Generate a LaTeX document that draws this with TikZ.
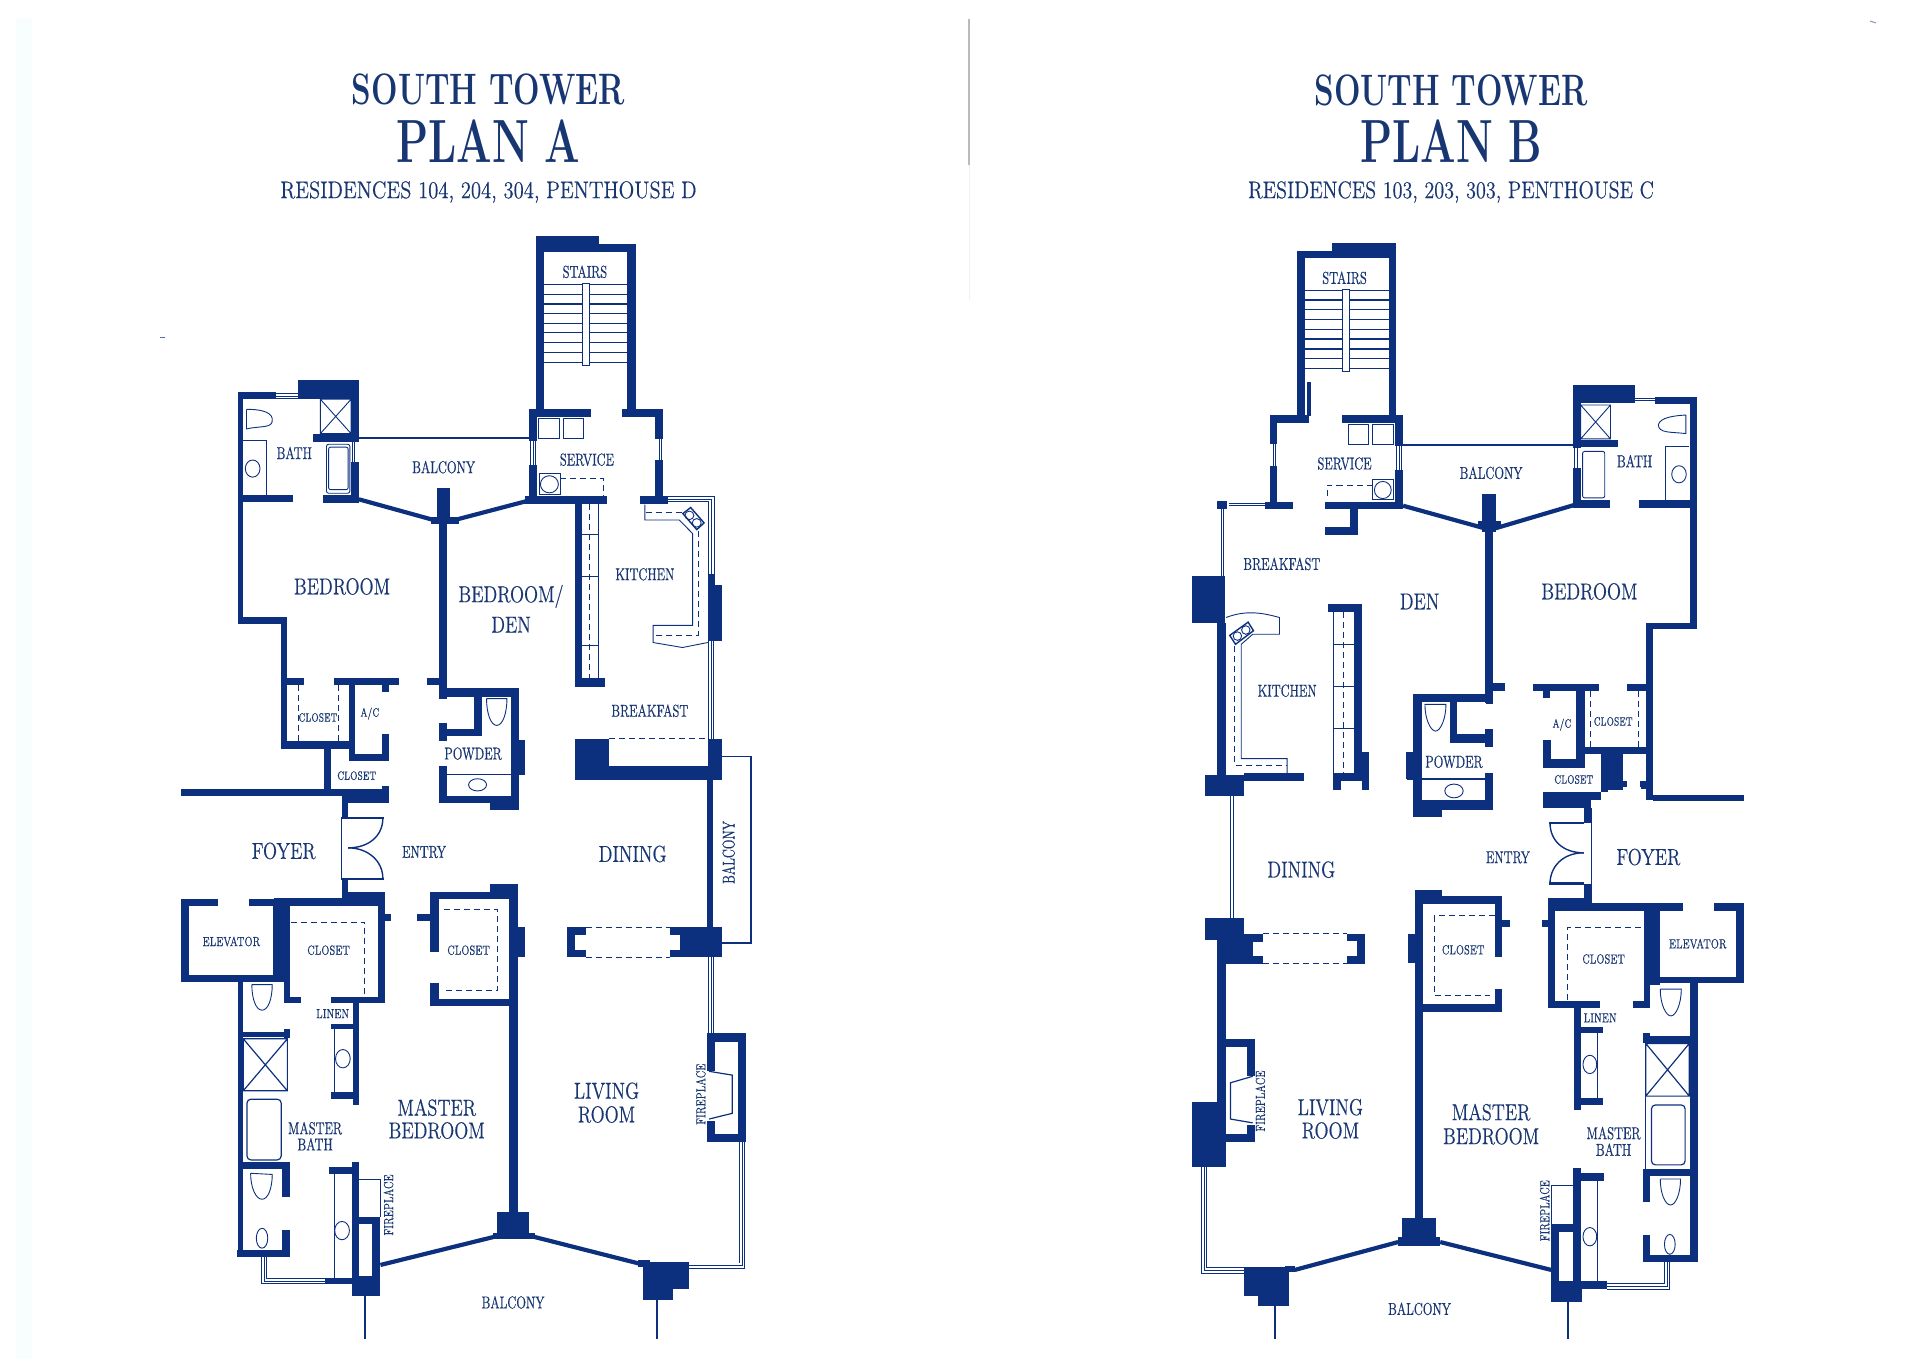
\documentclass[tikz,border=0pt]{standalone}
\usepackage{xcolor}
\usepackage{fontspec}
\setmainfont[FakeBold=.5]{Latin Modern Roman}
\newfontfamily\headfont{Latin Modern Roman}
\definecolor{planblue}{RGB}{12,47,126}
\definecolor{inkblue}{RGB}{24,54,114}
\definecolor{scanstrip}{RGB}{248,254,254}
\tikzset{
  wall/.style={fill=planblue},
  thinwall/.style={draw=planblue, line width=2.1pt},
  fixture/.style={draw=planblue, line width=.45pt},
  dashln/.style={draw=planblue, line width=.45pt, dash pattern=on 3pt off 2pt},
  pane/.style={draw=planblue, line width=3.2pt, postaction={draw=white, line width=2.3pt}, postaction={draw=planblue, line width=.4pt}},
  panelite/.style={draw=planblue, line width=2.6pt, postaction={draw=white, line width=1.9pt}, postaction={draw=planblue, line width=.3pt}},
  titlelbl/.style={text=inkblue, inner sep=0pt, transform shape},
  roomlbl/.style={titlelbl, font=\fontsize{11.5}{12}\selectfont, xscale=.8},
  smalllbl/.style={titlelbl, font=\fontsize{8.6}{9}\selectfont, xscale=.7},
  tinylbl/.style={titlelbl, font=\fontsize{6.6}{7}\selectfont, xscale=.7},
  microlbl/.style={titlelbl, font=\fontsize{6}{7}\selectfont, xscale=.66},
  cropAa/.style={shift={(160,220)}, x=.20408pt, y=-.17857pt},
  cropAb/.style={shift={(160,760)}, x=.20408pt, y=-.19098pt},
  cropBa/.style={shift={(1180,230)}, x=.19133pt, y=-.17857pt},
  cropBb/.style={shift={(1180,760)}, x=.19133pt, y=-.19098pt},
}
\newcommand{\walls}[1]{\foreach \xa/\ya/\xb/\yb in {#1} {\fill[wall] (\xa,\ya) rectangle (\xb,\yb);}}
\newcommand{\boxes}[1]{\foreach \xa/\ya/\xb/\yb in {#1} {\draw[fixture] (\xa,\ya) rectangle (\xb,\yb);}}
\begin{document}
\begin{tikzpicture}[x=.5pt, y=-.5pt]
    \useasboundingbox (0,0) rectangle (1920,1359);

    % Marks of the scan
    \fill[scanstrip] (16,18) rectangle (32,1359);
    \draw[planblue!70, line width=.5pt] (160,337) -- (165,337);
    \draw[planblue!50, line width=.5pt] (1870,21) -- (1876,23);

    % Headings
    \node[titlelbl, font=\headfont\bfseries\fontsize{22}{24}\selectfont, xscale=.713] (titleA) at (488.5,89) {SOUTH TOWER};
    \node[titlelbl, font=\headfont\bfseries\fontsize{30.5}{32}\selectfont, xscale=.686] (planA) at (488.5,141) {PLAN A};
    \node[titlelbl, font=\fontsize{12}{13}\selectfont, xscale=.86] (resA) at (488.5,192) {RESIDENCES 104, 204, 304, PENTHOUSE D};
    \node[titlelbl, font=\headfont\bfseries\fontsize{22}{24}\selectfont, xscale=.713] (titleB) at (1451,90) {SOUTH TOWER};
    \node[titlelbl, font=\headfont\bfseries\fontsize{30.5}{32}\selectfont, xscale=.686] (planB) at (1451,141) {PLAN B};
    \node[titlelbl, font=\fontsize{12}{13}\selectfont, xscale=.84] (resB) at (1451,192) {RESIDENCES 103, 203, 303, PENTHOUSE C};

    % Fold of the sheet
    \draw[black!27, line width=1pt] (969,19) -- (969,165);
    \draw[black!6, line width=.5pt] (969,165) -- (969,300);

    % Plan A, upper half
    \begin{scope}[cropAa]
        % stairs
        \walls{921/46/1076/90, 921/66/1166/90, 921/46/941/530, 1145/66/1166/530}
        \foreach \ty in {181,208,235,262,289,316,343,371,398} {\draw[fixture, line width=.6pt] (941,\ty) -- (1145,\ty);}
        \draw[fixture, fill=white] (1034,178) rectangle (1051,408);
        % service room
        \walls{905/528/1055/552, 1133/528/1233/552, 905/528/923/620, 905/685/923/790, 1213/528/1233/612, 1213/672/1233/780, 895/773/1095/795, 1175/773/1245/795}
        \draw[panelite] (914,620) -- (914,685);
        \draw[panelite] (1223,612) -- (1223,672);
        \boxes{927/555/978/611, 988/555/1038/611, 929/710/981/768}
        \draw[fixture] (954,740) ellipse (22 and 24);
        \draw[dashln] (981,724) -- (1087,724) -- (1087,772);
        % bath
        \walls{190/482/285/502, 190/482/204/1130, 337/447/487/500, 468/447/487/620, 468/678/487/790, 376/600/487/621, 204/771/325/789, 399/769/487/791}
        \draw[panelite] (285,493) -- (337,493);
        \draw[panelite] (477,621) -- (477,678);
        \draw[fixture] (393,502) rectangle (468,598) (393,502) -- (468,598) (393,598) -- (468,502);
        \draw[fixture, rounded corners=1pt] (408,628) rectangle (465,765);
        \draw[fixture, rounded corners=1pt] (413,636) rectangle (461,755);
        \draw[fixture] (212,530) -- (212,585) .. controls (250,575) and (278,585) .. (275,556) .. controls (272,535) and (240,530) .. (212,530);
        \draw[fixture] (204,618) -- (260,618) -- (260,771);
        \draw[fixture] (227,696) ellipse (18 and 24);
        % balcony rail and centre wall
        \walls{487/607/905/613, 678/750/710/850, 665/832/733/852, 683/850/703/1320, 655/1283/703/1303}
        \draw[thinwall] (487,782) -- (680,843);
        \draw[thinwall] (905,785) -- (712,843);
        % closets by the bedroom
        \walls{190/1112/312/1132, 297/1112/312/1480, 297/1283/354/1303, 427/1283/585/1303, 545/1303/561/1322, 463/1303/478/1515, 463/1495/561/1515, 545/1440/561/1515, 297/1460/478/1480, 403/1480/418/1568}
        \draw[dashln] (340,1303) -- (340,1460);
        \draw[dashln] (438,1303) -- (438,1460);
        % powder
        \walls{683/1310/880/1335, 683/1303/703/1340, 860/1310/880/1568, 880/1455/895/1545, 770/1310/790/1445, 683/1425/790/1445, 683/1408/703/1458, 683/1530/703/1568}
        \draw[fixture] (800,1340) -- (850,1340) .. controls (850,1380) and (840,1415) .. (825,1415) .. controls (810,1415) and (800,1380) .. (800,1340);
        % kitchen
        \walls{1016/795/1033/1307, 1016/1283/1089/1307}
        \draw[fixture] (1075,795) -- (1075,1283);
        \foreach \ty in {880,997,1190} {\draw[fixture] (1033,\ty) -- (1075,\ty);}
        \draw[dashln] (1051,795) -- (1051,1283);
        \draw[fixture] (1188,797) -- (1188,840) -- (1272,840) -- (1305,878) -- (1305,1135) -- (1208,1135) -- (1208,1183) -- (1280,1197) -- (1342,1183);
        \draw[dashln] (1190,820) -- (1282,820);
        \draw[dashln] (1318,870) -- (1318,1162) -- (1208,1162);
        \draw[fixture, line width=.7pt, fill=white] (1281,822) -- (1300,805) -- (1333,848) -- (1315,867) -- cycle;
        \draw[fixture] (1297,827) circle (11 and 12) (1315,848) circle (11 and 12);
        \draw[pane] (1245,781) -- (1351,781) -- (1351,990);
        \walls{1342/990/1360/1180, 1360/1023/1378/1180}
        \draw[pane] (1350,1180) -- (1350,1453);
        % block at the breakfast room
        \walls{1016/1453/1100/1568, 1342/1453/1378/1568, 1016/1530/1378/1568}
        \draw[dashln] (1100,1453) -- (1342,1453);
        \draw[fixture, line width=.9pt] (1378,1502) -- (1447,1502) -- (1447,1568);
        % room names
        \node[smalllbl] (stairsA) at (1041,145) {STAIRS};
        \node[smalllbl] (serviceA) at (1046,671) {SERVICE};
        \node[smalllbl] (balconyA) at (695,692) {BALCONY};
        \node[smalllbl] (bathA) at (329,652) {BATH};
        \node[roomlbl] (bedroomA) at (446,1026) {BEDROOM};
        \node[roomlbl] (denA) at (860,1054) {BEDROOM/};
        \node[roomlbl] (denAb) at (860,1133) {DEN};
        \node[smalllbl] (kitchenA) at (1188,992) {KITCHEN};
        \node[smalllbl] (breakfastA) at (1200,1374) {BREAKFAST};
        \node[smalllbl] (powderA) at (767,1494) {POWDER};
        \node[microlbl] (closetAa) at (387,1393) {CLOSET};
        \node[microlbl] (acA) at (514,1382) {A/C};
    \end{scope}

    % Plan A, lower half
    \begin{scope}[cropAb]
        % foyer and elevator
        \walls{403/52/418/75, 51/75/445/95, 403/75/561/95, 445/95/561/112, 545/68/561/112, 445/95/461/150, 445/313/461/345, 280/362/461/382, 445/345/551/382, 51/363/141/382, 218/363/318/382, 51/363/72/580, 51/562/318/580, 278/363/318/565, 303/565/318/635, 303/620/345/635, 420/620/551/635, 535/363/551/635, 551/403/566/421}
        % doors
        \draw[fixture, line width=.7pt] (445,150) -- (445,313);
        \walls{445/150/548/155, 445/308/548/313}
        \draw[fixture, line width=.7pt] (546,152) .. controls (546,200) and (510,230) .. (461,230);
        \draw[fixture, line width=.7pt] (546,310) .. controls (546,265) and (510,230) .. (461,230);
        \draw[dashln] (320,424) -- (502,424) -- (502,620);
        % master bath
        \walls{472/635/487/703, 418/690/487/703, 472/703/487/903, 418/870/487/888, 190/580/204/1302, 204/712/318/726, 303/703/318/728, 204/1053/318/1072, 300/1053/318/1145, 300/1230/318/1302, 188/1283/318/1302, 414/1065/488/1085, 470/1053/488/1402, 405/1355/470/1372}
        \draw[fixture] (427,703) -- (427,870);
        \draw[fixture] (448,782) ellipse (18 and 24);
        \draw[fixture] (225,588) -- (275,588) .. controls (275,625) and (265,655) .. (250,655) .. controls (235,655) and (225,625) .. (225,588);
        \draw[fixture, line width=.6pt] (204,730) rectangle (312,866) (204,730) -- (312,866) (204,866) -- (312,730);
        \draw[fixture, rounded corners=2pt, line width=.6pt] (213,888) rectangle (297,1047);
        \draw[fixture] (222,1082) -- (275,1085) .. controls (275,1120) and (265,1150) .. (250,1150) .. controls (235,1150) and (222,1120) .. (222,1082);
        \draw[fixture] (250,1252) ellipse (14 and 26);
        \draw[fixture] (427,1085) -- (427,1355);
        \draw[fixture] (446,1232) ellipse (18 and 24);
        \draw[pane] (255,1302) -- (255,1364) -- (405,1364);
        % fireplace by the bedroom
        \draw[fixture] (488,1098) -- (540,1098) -- (540,1197);
        \walls{488/1197/540/1216, 520/1197/540/1402, 470/1352/540/1402}
        % powder remainder
        \walls{860/52/880/131, 880/0/895/38, 683/20/703/113, 683/93/880/113, 808/113/880/131}
        \draw[fixture] (703,37) -- (860,37);
        \draw[fixture] (778,65) ellipse (22 and 16);
        % big closet and centre wall
        \walls{662/345/856/365, 808/325/877/345, 856/325/877/1183, 877/438/893/517, 662/345/684/503, 630/403/684/422, 662/585/684/645, 662/625/856/645, 825/1183/905/1255, 815/1237/918/1255}
        \draw[dashln] (695,392) -- (827,392) -- (827,603) -- (695,603);
        \draw[thinwall] (540,1322) -- (820,1248);
        \draw[thinwall] (915,1248) -- (1180,1320);
        % dining
        \walls{1016/52/1378/38, 1340/38/1356/438, 997/438/1043/458, 997/438/1017/517, 997/497/1043/517, 1273/438/1378/517, 1250/438/1273/458, 1250/497/1273/517}
        \draw[dashln] (1043,438) -- (1250,438);
        \draw[dashln] (1043,517) -- (1250,517);
        \draw[fixture, line width=.9pt] (1447,52) -- (1447,480) -- (1378,480);
        \draw[pane] (1350,517) -- (1350,715);
        % living room fireplace
        \walls{1340/715/1435/738, 1340/738/1360/815, 1340/945/1360/1000, 1340/980/1435/1000, 1415/715/1435/1000}
        \draw[fixture, line width=.6pt] (1345,815) -- (1402,825) -- (1402,925) -- (1345,940);
        \draw[pane] (1426,1000) -- (1426,1324) -- (1295,1324);
        % corner piers, balcony ends
        \walls{1184/1313/1295/1385, 1184/1385/1257/1415, 1172/1310/1200/1328}
        \draw[fixture, line width=1pt] (1218,1415) -- (1218,1515);
        \draw[fixture, line width=1pt] (501,1402) -- (501,1515);
        % room names
        \node[microlbl] (closetAb) at (482,41) {CLOSET};
        \node[roomlbl] (foyerA) at (303,238) {FOYER};
        \node[smalllbl] (entryA) at (647,241) {ENTRY};
        \node[roomlbl] (diningA) at (1158,246) {DINING};
        \node[tinylbl] (elevatorA) at (175,475) {ELEVATOR};
        \node[tinylbl] (closetAc) at (413,498) {CLOSET};
        \node[tinylbl] (closetAd) at (756,498) {CLOSET};
        \node[tinylbl] (linenA) at (423,664) {LINEN};
        \node[smalllbl] (mbathA) at (380,964) {MASTER};
        \node[smalllbl] (mbathAb) at (380,1006) {BATH};
        \node[roomlbl] (mbedA) at (678,910) {MASTER};
        \node[roomlbl] (mbedAb) at (678,970) {BEDROOM};
        \node[roomlbl] (livingA) at (1094,866) {LIVING};
        \node[roomlbl] (livingAb) at (1094,928) {ROOM};
        \node[smalllbl] (balconyAb) at (865,1420) {BALCONY};
        \node[rotate=90, smalllbl] (balconyAc) at (1393,242) {BALCONY};
        \node[rotate=90, tinylbl] (fireAa) at (560,1165) {FIREPLACE};
        \node[rotate=90, tinylbl] (fireAb) at (1325,875) {FIREPLACE};
    \end{scope}

    % Plan B, upper half
    \begin{scope}[cropBa]
        % stairs
        \walls{398/36/565/58, 305/58/565/78, 305/58/327/520, 545/36/565/520, 332/425/341/520}
        \foreach \ty in {170,196,223,250,278,305,333,360,387} {\draw[fixture, line width=.6pt] (327,\ty) -- (545,\ty);}
        \draw[fixture, fill=white] (424,167) rectangle (444,397);
        % service room
        \walls{235/518/338/540, 422/518/583/540, 235/518/253/600, 235/662/253/780, 562/518/583/605, 562/672/583/782, 222/762/296/782, 380/762/583/782, 443/782/465/855, 380/832/465/855}
        \draw[panelite] (244,600) -- (244,662);
        \draw[panelite] (572,605) -- (572,672);
        \boxes{440/545/492/600, 503/545/557/600, 503/698/558/755}
        \draw[fixture] (530,728) ellipse (22 and 24);
        \draw[dashln] (503,714) -- (385,714) -- (385,755);
        % bath
        \walls{1027/433/1188/485, 1027/433/1047/610, 1027/665/1047/775, 1027/587/1145/607, 1240/467/1352/487, 1332/467/1352/1118, 1218/1100/1352/1118, 1218/1100/1237/1568, 1027/757/1123/777, 1200/757/1352/777}
        \draw[panelite] (1037,610) -- (1037,665);
        \draw[fixture] (1047,490) rectangle (1125,585) (1047,490) -- (1125,585) (1047,585) -- (1125,490);
        \draw[fixture, rounded corners=1pt] (1052,620) rectangle (1110,750);
        \draw[fixture] (1322,518) -- (1322,570) .. controls (1285,565) and (1250,570) .. (1250,545) .. controls (1255,525) and (1290,520) .. (1322,518);
        \draw[fixture] (1330,605) -- (1268,605) -- (1268,757);
        \draw[fixture] (1304,684) ellipse (19 and 24);
        \draw[panelite] (1188,478) -- (1240,478);
        % balcony rail and centre wall
        \walls{583/598/1030/604, 790/738/825/845, 778/815/840/838, 797/845/818/1325, 818/1268/848/1292}
        \draw[thinwall] (583,772) -- (795,835);
        \draw[thinwall] (1030,770) -- (825,835);
        % closets by the bedroom
        \walls{923/1270/1095/1292, 1168/1270/1237/1290, 948/1292/968/1310, 1035/1292/1058/1505, 948/1428/970/1505, 948/1482/1058/1505, 1035/1448/1237/1468, 1100/1468/1157/1568, 1205/1545/1237/1565}
        \draw[dashln] (1073,1292) -- (1073,1448);
        \draw[dashln] (1197,1292) -- (1197,1448);
        % powder
        \walls{610/1300/818/1322, 610/1300/632/1568, 590/1462/610/1538, 800/1300/818/1328, 705/1322/725/1435, 705/1412/818/1435, 798/1398/818/1447, 798/1520/818/1568}
        \draw[fixture] (640,1328) -- (695,1328) .. controls (695,1370) and (680,1403) .. (668,1403) .. controls (655,1403) and (640,1370) .. (640,1328);
        \draw[fixture] (632,1537) -- (800,1537);
        % kitchen and breakfast
        \walls{32/968/118/1100, 97/1100/120/1568, 65/1525/167/1568, 167/1520/323/1543, 388/1048/476/1070, 455/1048/476/1543, 400/1520/495/1543, 476/1462/495/1568, 400/1520/420/1568, 97/760/122/782}
        \draw[panelite] (108,968) -- (108,782);
        \draw[panelite] (128,772) -- (222,772);
        \draw[fixture] (402,1070) -- (402,1520);
        \foreach \ty in {1160,1278,1395} {\draw[fixture] (402,\ty) -- (455,\ty);}
        \draw[dashln] (428,1070) -- (428,1520);
        \draw[fixture] (120,1085) .. controls (170,1065) and (210,1070) .. (260,1085) -- (260,1132) -- (190,1132) -- (160,1160) -- (160,1480) -- (280,1480) -- (280,1525);
        \draw[dashln] (143,1165) -- (143,1498) -- (280,1498);
        \draw[fixture, line width=.7pt, fill=white] (130,1135) -- (178,1098) -- (192,1122) -- (145,1160) -- cycle;
        \draw[fixture] (150,1137) circle (11 and 12) (172,1120) circle (11 and 12);
        % room names
        \node[smalllbl] (stairsB) at (430,134) {STAIRS};
        \node[smalllbl] (serviceB) at (430,654) {SERVICE};
        \node[smalllbl] (balconyB) at (813,680) {BALCONY};
        \node[smalllbl] (bathB) at (1188,647) {BATH};
        \node[smalllbl] (breakfastB) at (266,935) {BREAKFAST};
        \node[roomlbl] (denB) at (626,1040) {DEN};
        \node[roomlbl] (bedroomB) at (1070,1012) {BEDROOM};
        \node[smalllbl] (kitchenB) at (280,1290) {KITCHEN};
        \node[smalllbl] (powderB) at (716,1489) {POWDER};
        \node[microlbl] (closetBa) at (1132,1376) {CLOSET};
        \node[microlbl] (acB) at (998,1385) {A/C};
    \end{scope}

    % Plan B, lower half
    \begin{scope}[cropBb]
        % foyer and elevator
        \walls{65/38/167/95, 948/85/1100/105, 948/85/968/125, 948/105/1075/125, 1057/125/1075/165, 1057/325/1075/375, 1100/0/1157/55, 1100/55/1118/85, 1157/55/1167/70, 1217/40/1237/105, 1203/55/1217/70, 1237/92/1473/107, 962/360/1075/395, 1075/375/1315/395, 1395/375/1473/395, 1453/375/1473/585, 1230/568/1473/585, 1212/375/1255/590, 1212/590/1228/650, 962/360/980/650, 962/632/1098/650, 1185/632/1228/650, 947/418/962/437}
        % doors
        \draw[fixture, line width=.7pt] (1075,125) -- (1075,375);
        \walls{965/163/1057/168, 965/320/1057/326}
        \draw[fixture, line width=.7pt] (967,165) .. controls (967,210) and (1000,243) .. (1055,243);
        \draw[fixture, line width=.7pt] (967,323) .. controls (967,280) and (1000,243) .. (1055,243);
        \draw[dashln] (1205,438) -- (1013,438) -- (1013,632);
        % master bath
        \walls{1030/650/1048/915, 1048/700/1105/716, 1048/885/1105/903, 1333/585/1353/1315, 1210/1295/1353/1315, 1210/716/1228/742, 1210/722/1333/742, 1210/1070/1333/1090, 1210/1070/1228/1158, 1210/1243/1228/1315, 1027/1068/1048/1418, 1048/1082/1107/1102, 1048/1365/1115/1385}
        \draw[fixture] (1092,716) -- (1092,885);
        \draw[fixture] (1071,797) ellipse (18 and 24);
        \draw[fixture] (1255,600) -- (1310,600) .. controls (1310,640) and (1295,670) .. (1283,670) .. controls (1270,670) and (1255,640) .. (1255,600);
        \draw[fixture, line width=.6pt] (1217,742) rectangle (1331,880) (1217,742) -- (1331,880) (1217,880) -- (1331,742);
        \draw[fixture] (1217,880) -- (1217,1070);
        \draw[fixture, rounded corners=2pt, line width=.6pt] (1232,903) rectangle (1320,1060);
        \draw[fixture] (1255,1097) -- (1308,1097) .. controls (1308,1135) and (1295,1165) .. (1282,1165) .. controls (1268,1165) and (1255,1135) .. (1255,1097);
        \draw[fixture] (1280,1268) ellipse (14 and 26);
        \draw[fixture] (1092,1102) -- (1092,1365);
        \draw[fixture] (1071,1248) ellipse (18 and 24);
        \draw[pane] (1115,1378) -- (1273,1378) -- (1273,1315);
        % fireplace by the bedroom
        \draw[fixture] (970,1215) -- (970,1113) -- (1027,1113);
        \walls{970/1215/1048/1235, 970/1215/990/1418, 970/1365/1050/1418}
        % powder remainder
        \walls{610/0/632/148, 610/130/685/148, 630/105/818/130, 798/35/818/130, 592/0/610/52}
        \draw[fixture] (632,50) -- (798,50);
        \draw[fixture] (716,81) ellipse (24 and 18);
        % big closet and centre wall
        \walls{613/340/685/378, 685/357/842/378, 822/357/842/517, 842/418/862/437, 822/600/842/660, 635/640/842/660, 613/340/635/1198, 595/455/613/532, 581/1198/668/1272, 570/1250/680/1272}
        \draw[dashln] (822,408) -- (665,408) -- (665,617) -- (810,617);
        \draw[thinwall] (970,1335) -- (680,1262);
        \draw[thinwall] (570,1262) -- (300,1335);
        % dining
        \draw[pane] (139,95) -- (139,413);
        \walls{65/413/167/470, 97/455/190/535, 167/455/217/477, 190/512/217/535, 437/455/483/475, 463/455/483/533, 437/513/483/533}
        \draw[dashln] (217,455) -- (437,455);
        \draw[dashln] (217,533) -- (437,533);
        % living room fireplace
        \walls{97/535/120/895, 97/730/197/752, 175/752/197/828, 175/955/197/1000, 97/980/197/1000, 32/895/120/1065}
        \draw[fixture, line width=.6pt] (190,828) -- (132,845) -- (132,940) -- (190,950);
        \draw[pane] (63,1065) -- (63,1337) -- (168,1337);
        % corner piers, balcony ends
        \walls{168/1328/285/1403, 205/1403/285/1430, 275/1325/300/1340}
        \draw[fixture, line width=1pt] (248,1430) -- (248,1515);
        \draw[fixture, line width=1pt] (1013,1418) -- (1013,1515);
        % room names
        \node[microlbl] (closetBb) at (1029,51) {CLOSET};
        \node[roomlbl] (diningB) at (317,287) {DINING};
        \node[smalllbl] (entryB) at (857,255) {ENTRY};
        \node[roomlbl] (foyerB) at (1224,254) {FOYER};
        \node[tinylbl] (closetBc) at (740,497) {CLOSET};
        \node[tinylbl] (closetBd) at (1107,521) {CLOSET};
        \node[tinylbl] (elevatorB) at (1353,481) {ELEVATOR};
        \node[tinylbl] (linenB) at (1098,675) {LINEN};
        \node[roomlbl] (mbedB) at (813,922) {MASTER};
        \node[roomlbl] (mbedBb) at (813,985) {BEDROOM};
        \node[smalllbl] (mbathB) at (1133,977) {MASTER};
        \node[smalllbl] (mbathBb) at (1133,1020) {BATH};
        \node[roomlbl] (livingB) at (393,909) {LIVING};
        \node[roomlbl] (livingBb) at (393,970) {ROOM};
        \node[smalllbl] (balconyBb) at (626,1437) {BALCONY};
        \node[rotate=90, tinylbl] (fireBa) at (210,893) {FIREPLACE};
        \node[rotate=90, tinylbl] (fireBb) at (953,1180) {FIREPLACE};
    \end{scope}
\end{tikzpicture}
\end{document}
